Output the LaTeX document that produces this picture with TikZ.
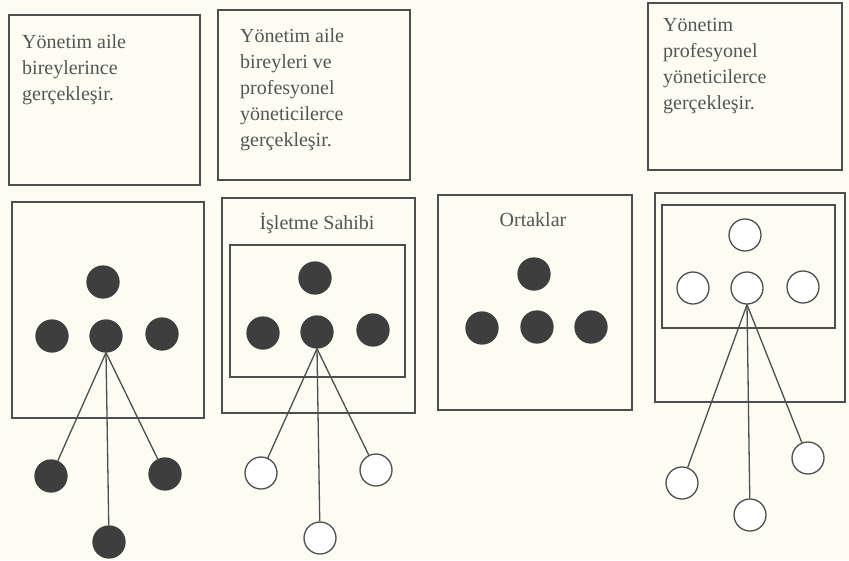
\documentclass[tikz,border=0pt]{standalone}
\usepackage{fontspec}
\setmainfont{Liberation Serif}
\definecolor{paper}{HTML}{FCFCF3}
\definecolor{ink}{HTML}{4E4E4E}
\definecolor{dot}{HTML}{3E3E3E}
\definecolor{txt}{HTML}{555555}
\begin{document}
\begin{tikzpicture}[x=1pt,y=-1pt,
  panel/.style={draw=ink, line width=1.4pt, rectangle, inner sep=0pt},
  note/.style={anchor=north west, align=left, inner sep=0pt, text=txt,
    font=\fontsize{20}{26}\selectfont},
  caption/.style={anchor=base, inner sep=0pt, text=txt,
    font=\fontsize{20}{24}\selectfont},
  person/.style={circle, minimum size=32pt, inner sep=0pt, line width=1.3pt},
  owner/.style={person, draw=dot, fill=dot},
  hired/.style={person, draw=ink, fill=white},
  link/.style={draw=ink, line width=1.3pt}]
\useasboundingbox[fill=paper] (0,0) rectangle (849,560);

% description panels
\node[panel, minimum width=191pt, minimum height=170pt] (boxA) at (104.5,100) {};
\node[panel, minimum width=192pt, minimum height=170pt] (boxB) at (314,95) {};
\node[panel, minimum width=194pt, minimum height=167pt] (boxC) at (745,86.5) {};
\node[note] (txtA) at (22,34) {Yönetim aile\\bireylerince\\gerçekleşir.};
\node[note] (txtB) at (240,28) {Yönetim aile\\bireyleri ve\\profesyonel\\yöneticilerce\\gerçekleşir.};
\node[note] (txtC) at (663,18) {Yönetim\\profesyonel\\yöneticilerce\\gerçekleşir.};

% structure panels
\node[panel, minimum width=192pt, minimum height=216pt] (boxD) at (108,310) {};
\node[panel, minimum width=193pt, minimum height=215pt] (boxE) at (318.5,305.5) {};
\node[panel, minimum width=175pt, minimum height=132pt] (boxEin) at (317.5,311) {};
\node[panel, minimum width=194pt, minimum height=215pt] (boxF) at (535,302.5) {};
\node[panel, minimum width=190pt, minimum height=209pt] (boxG) at (750,297.5) {};
\node[panel, minimum width=173pt, minimum height=123pt] (boxGin) at (748.5,266.5) {};
\node[caption] (capE) at (317,229) {İşletme Sahibi};
\node[caption] (capF) at (533,226) {Ortaklar};

% family-run: all owners
\node[owner] (d0) at (103,282) {};
\node[owner] (d1) at (52,336) {};
\node[owner] (d2) at (106,336) {};
\node[owner] (d3) at (162,334) {};
\node[owner] (d4) at (51,476) {};
\node[owner] (d5) at (109,542) {};
\node[owner] (d6) at (165,474) {};
\draw[link] (d2.south) -- (d4);
\draw[link] (d2.south) -- (d5);
\draw[link] (d2.south) -- (d6);

% owner with professional managers
\node[owner] (e0) at (315,278) {};
\node[owner] (e1) at (263,333) {};
\node[owner] (e2) at (317,332) {};
\node[owner] (e3) at (373,330) {};
\node[hired] (e4) at (261,473) {};
\node[hired] (e5) at (320,538) {};
\node[hired] (e6) at (376,470) {};
\draw[link] (e2.south) -- (e4);
\draw[link] (e2.south) -- (e5);
\draw[link] (e2.south) -- (e6);

% partners
\node[owner] (f0) at (534,274) {};
\node[owner] (f1) at (482,328) {};
\node[owner] (f2) at (537,327) {};
\node[owner] (f3) at (591,327) {};

% fully professional management
\node[hired] (g0) at (745,235) {};
\node[hired] (g1) at (693,288) {};
\node[hired] (g2) at (747,288) {};
\node[hired] (g3) at (803,287) {};
\node[hired] (g4) at (682,483) {};
\node[hired] (g5) at (750,515) {};
\node[hired] (g6) at (808,458) {};
\draw[link] (g2.south) -- (g4);
\draw[link] (g2.south) -- (g5);
\draw[link] (g2.south) -- (g6);
\end{tikzpicture}
\end{document}
